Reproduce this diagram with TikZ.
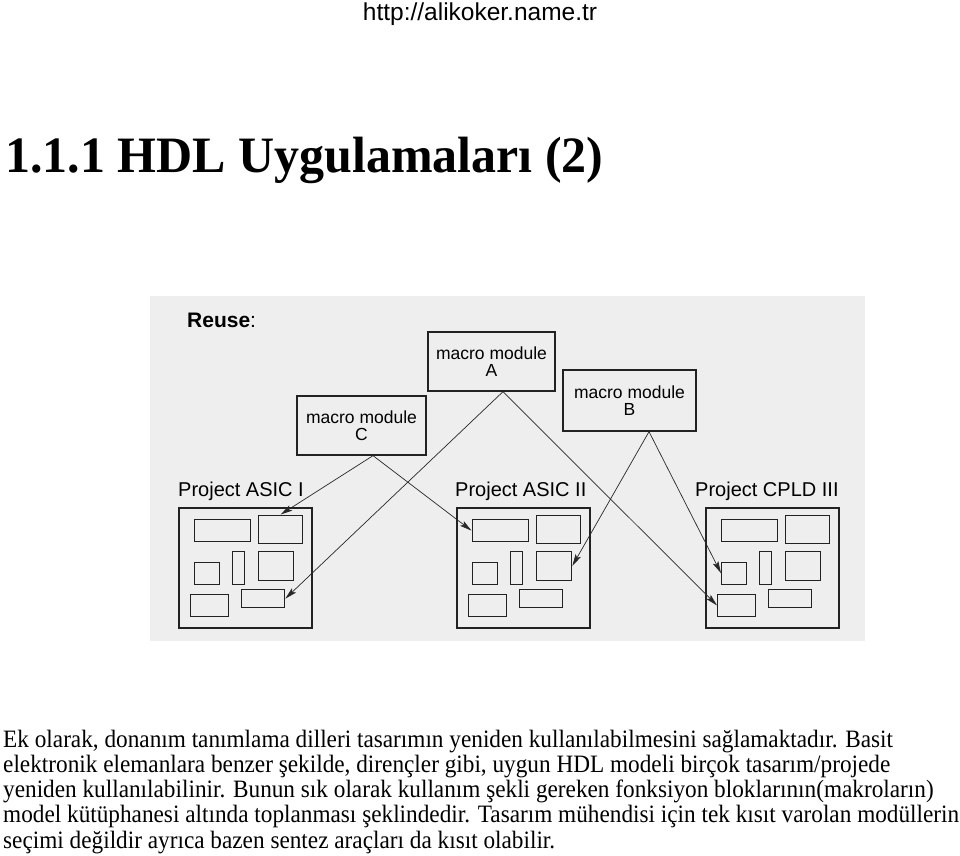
\documentclass[tikz,border=0pt]{standalone}
\usepackage{fontspec}
\setmainfont[FakeStretch=0.93]{Liberation Serif}
\newfontfamily\arialf{Liberation Sans}
\newfontfamily\titlef[FakeStretch=0.98]{Liberation Serif}
\usetikzlibrary{arrows.meta}
\definecolor{panelgray}{RGB}{238,238,238}
\definecolor{boxline}{RGB}{34,34,34}
\definecolor{linkc}{RGB}{40,40,40}
\newcommand\projbox[3]{%
\begin{scope}[shift={(#2,#3)}]
\node[outerbox, minimum width=133pt, minimum height=120pt] (#1) at (0,0) {};
\node[innerbox, minimum width=56.5pt, minimum height=22pt] (#1r1) at (15.5,12) {};
\node[innerbox, minimum width=44pt, minimum height=28pt] (#1r2) at (80,7.5) {};
\node[innerbox, minimum width=25pt, minimum height=22pt] (#1r3) at (16,54.5) {};
\node[innerbox, minimum width=12.5pt, minimum height=33pt] (#1r4) at (53.5,44) {};
\node[innerbox, minimum width=35pt, minimum height=28.5pt] (#1r5) at (80,44) {};
\node[innerbox, minimum width=37.5pt, minimum height=22.5pt] (#1r6) at (12,86.5) {};
\node[innerbox, minimum width=43.5pt, minimum height=18pt] (#1r7) at (62.5,82) {};
\end{scope}}
\begin{document}
\begin{tikzpicture}[x=1pt,y=-1pt,
  panel/.style={fill=panelgray, inner sep=0, anchor=north west},
  modbox/.style={draw=boxline, line width=1.3pt, fill=panelgray, inner sep=0, align=center,
    font=\arialf\fontsize{17.5}{17.5}\selectfont},
  outerbox/.style={draw=boxline, line width=1.6pt, inner sep=0, anchor=north west},
  innerbox/.style={draw=boxline, line width=1.3pt, inner sep=0, anchor=north west},
  projlabel/.style={anchor=base west, inner sep=0, font=\arialf\fontsize{20}{20}\selectfont},
  link/.style={draw=linkc, line width=0.7pt, -{Stealth[length=12pt,width=6pt,inset=2.5pt]}},
  bodyline/.style={anchor=base west, inner sep=0, font=\fontsize{25}{25}\selectfont}]
\useasboundingbox (0,0) rectangle (960,855);
\fill[white] (0,0) rectangle (960,855);
% header and title
\node[anchor=base, inner sep=0, font=\arialf\fontsize{24.5}{24.5}\selectfont] (url) at (480,20) {http://alikoker.name.tr};
\node[anchor=base west, inner sep=0, font=\titlef\bfseries\fontsize{51}{51}\selectfont] (title) at (5,172) {1.1.1 HDL Uygulamaları (2)};
% panel
\node[panel, minimum width=715pt, minimum height=345pt] (panel) at (150,296) {};
\node[anchor=base west, inner sep=0, font=\arialf\fontsize{21}{21}\selectfont] (reuse) at (187,327) {\textbf{Reuse}:};
% macro modules
\node[modbox, minimum width=127pt, minimum height=59pt] (A) at (491.5,361.5) {macro module\\A};
\node[modbox, minimum width=133pt, minimum height=61pt] (B) at (629.5,400.5) {macro module\\B};
\node[modbox, minimum width=129pt, minimum height=59pt] (C) at (361.5,425.5) {macro module\\C};
\coordinate (Aap) at ([xshift=11.5pt]A.south);
\coordinate (Bap) at ([xshift=19.5pt]B.south);
\coordinate (Cap) at ([xshift=11.5pt]C.south);
% projects
\node[projlabel] (l1) at (178,496) {Project ASIC I};
\node[projlabel] (l2) at (455,496) {Project ASIC II};
\node[projlabel] (l3) at (695,496) {Project CPLD III};
\projbox{pa}{178}{507}
\projbox{pb}{456}{507}
\projbox{pc}{705}{507}
% links
\draw[link] (Cap) -- (par2.north);
\draw[link] (Cap) -- (pbr1.west);
\draw[link] (Aap) -- (par7.east);
\draw[link] (Aap) -- (pcr6.west);
\draw[link] (Bap) -- (pbr5.east);
\draw[link] (Bap) -- (pcr3.west);
% body text
\node[bodyline] (t1) at (3,747) {Ek olarak, donanım tanımlama dilleri tasarımın yeniden kullanılabilmesini sağlamaktadır. Basit};
\node[bodyline] (t2) at (3,772.25) {elektronik elemanlara benzer şekilde, dirençler gibi, uygun HDL modeli birçok tasarım/projede};
\node[bodyline] (t3) at (3,797.5) {yeniden kullanılabilinir. Bunun sık olarak kullanım şekli gereken fonksiyon bloklarının(makroların)};
\node[bodyline] (t4) at (3,822.75) {model kütüphanesi altında toplanması şeklindedir. Tasarım mühendisi için tek kısıt varolan modüllerin};
\node[bodyline] (t5) at (3,848) {seçimi değildir ayrıca bazen sentez araçları da kısıt olabilir.};
\end{tikzpicture}
\end{document}
